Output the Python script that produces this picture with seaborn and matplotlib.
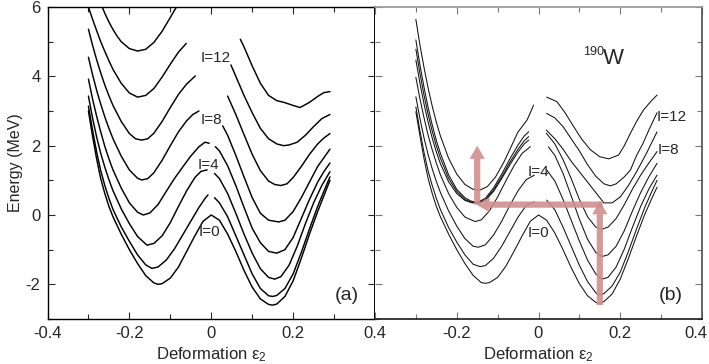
import numpy as np
import pandas as pd
import matplotlib
matplotlib.use("Agg")
import matplotlib.pyplot as plt
import matplotlib.transforms as mtransforms
import seaborn as sns

# ---------------- data: panel (a) ----------------
a0_x = [-0.30,-0.29,-0.28,-0.27,-0.26,-0.25,-0.24,-0.23,-0.22,-0.20,-0.18,-0.16,-0.14,-0.13,-0.12,-0.10,-0.08,-0.06,-0.04,-0.02,0.0,
        0.02,0.04,0.06,0.08,0.10,0.12,0.14,0.15,0.16,0.18,0.20,0.22,0.24,0.26,0.275,0.29]
a0_y = [3.00,2.28,1.62,1.05,0.62,0.25,-0.05,-0.30,-0.55,-1.00,-1.40,-1.75,-1.96,-2.00,-1.98,-1.82,-1.50,-1.05,-0.60,-0.18,0.0,
        -0.15,-0.55,-1.05,-1.60,-2.08,-2.42,-2.58,-2.60,-2.57,-2.35,-1.90,-1.25,-0.55,0.10,0.55,1.00]

a2L_x = [-0.30,-0.29,-0.28,-0.27,-0.26,-0.25,-0.24,-0.22,-0.20,-0.18,-0.16,-0.145,-0.13,-0.11,-0.09,-0.07,-0.05,-0.03,-0.015,-0.008]
a2L_y = [3.14,2.45,1.82,1.28,0.85,0.48,0.16,-0.34,-0.76,-1.15,-1.44,-1.54,-1.50,-1.30,-0.98,-0.58,-0.18,0.22,0.48,0.58]
a2R_x = [0.008,0.02,0.04,0.06,0.08,0.10,0.12,0.14,0.15,0.16,0.18,0.20,0.22,0.24,0.26,0.275,0.29]
a2R_y = [0.50,0.35,-0.05,-0.60,-1.15,-1.70,-2.12,-2.33,-2.35,-2.32,-2.12,-1.70,-1.08,-0.40,0.25,0.68,1.10]

a4L_x = [-0.30,-0.29,-0.28,-0.27,-0.26,-0.25,-0.24,-0.22,-0.20,-0.18,-0.157,-0.14,-0.12,-0.10,-0.08,-0.06,-0.04,-0.025,-0.01]
a4L_y = [3.43,2.80,2.25,1.78,1.38,1.02,0.70,0.18,-0.25,-0.62,-0.87,-0.82,-0.60,-0.22,0.25,0.70,1.08,1.26,1.30]
a4R_x = [0.008,0.02,0.04,0.06,0.08,0.10,0.12,0.14,0.155,0.17,0.19,0.21,0.23,0.25,0.27,0.29]
a4R_y = [1.20,1.05,0.62,0.05,-0.55,-1.10,-1.55,-1.80,-1.85,-1.78,-1.45,-0.90,-0.25,0.35,0.85,1.25]

a6L_x = [-0.30,-0.29,-0.28,-0.27,-0.26,-0.25,-0.24,-0.22,-0.20,-0.18,-0.166,-0.15,-0.13,-0.11,-0.09,-0.07,-0.05,-0.03,-0.015,-0.005]
a6L_y = [3.92,3.35,2.85,2.40,1.98,1.62,1.30,0.78,0.35,0.08,0.00,0.06,0.30,0.68,1.05,1.38,1.70,1.97,2.10,2.07]
a6R_x = [0.01,0.02,0.04,0.06,0.08,0.10,0.12,0.14,0.16,0.18,0.20,0.22,0.24,0.26,0.275,0.29]
a6R_y = [1.97,1.85,1.42,0.85,0.22,-0.38,-0.80,-1.05,-1.10,-1.00,-0.65,-0.10,0.45,0.95,1.25,1.50]

a8L_x = [-0.30,-0.29,-0.28,-0.27,-0.26,-0.25,-0.24,-0.22,-0.20,-0.18,-0.17,-0.155,-0.14,-0.12,-0.10,-0.08,-0.06,-0.045,-0.03]
a8L_y = [4.55,4.05,3.60,3.20,2.83,2.50,2.20,1.70,1.30,1.06,1.01,1.05,1.22,1.58,2.00,2.40,2.72,2.90,3.00]
a8R_x = [0.028,0.04,0.06,0.08,0.10,0.12,0.14,0.165,0.18,0.20,0.22,0.24,0.26,0.275,0.29]
a8R_y = [2.57,2.30,1.72,1.10,0.50,0.05,-0.15,-0.20,-0.15,0.10,0.50,0.95,1.40,1.65,1.90]

a10L_x = [-0.30,-0.29,-0.28,-0.27,-0.26,-0.25,-0.24,-0.22,-0.20,-0.185,-0.17,-0.155,-0.14,-0.12,-0.10,-0.08,-0.06,-0.039]
a10L_y = [5.36,4.90,4.48,4.10,3.75,3.44,3.16,2.70,2.35,2.20,2.16,2.20,2.36,2.70,3.10,3.48,3.78,4.01]
a10R_x = [0.04,0.06,0.08,0.10,0.12,0.14,0.155,0.17,0.185,0.20,0.22,0.24,0.26,0.275,0.29]
a10R_y = [3.43,2.90,2.32,1.75,1.28,0.98,0.88,0.85,0.90,1.08,1.40,1.75,2.05,2.22,2.35]

a12L_x = [-0.30,-0.29,-0.28,-0.27,-0.26,-0.25,-0.24,-0.22,-0.20,-0.18,-0.16,-0.14,-0.12,-0.10,-0.08,-0.061]
a12L_y = [6.00,5.65,5.32,5.00,4.72,4.45,4.20,3.80,3.52,3.40,3.45,3.65,3.98,4.35,4.70,4.95]
a12R_x = [0.048,0.06,0.08,0.10,0.12,0.14,0.16,0.177,0.19,0.21,0.23,0.25,0.27,0.29]
a12R_y = [4.33,4.00,3.45,2.95,2.50,2.20,2.05,2.00,2.02,2.10,2.30,2.55,2.78,2.90]

a14L_x = [-0.27,-0.26,-0.25,-0.24,-0.23,-0.22,-0.20,-0.18,-0.16,-0.14,-0.12,-0.10,-0.085,-0.07]
a14L_y = [6.10,5.82,5.57,5.35,5.16,5.00,4.80,4.73,4.78,4.98,5.30,5.70,6.00,6.25]
a14R_x = [0.071,0.08,0.10,0.12,0.14,0.16,0.18,0.20,0.217,0.24,0.26,0.275,0.29]
a14R_y = [5.07,4.85,4.30,3.80,3.45,3.30,3.24,3.16,3.10,3.25,3.42,3.53,3.56]

# ---------------- data: panel (b) ----------------
b0_x = [-0.30,-0.29,-0.28,-0.27,-0.26,-0.25,-0.24,-0.23,-0.22,-0.20,-0.18,-0.16,-0.14,-0.13,-0.12,-0.10,-0.08,-0.06,-0.04,-0.02,0.0,
        0.02,0.04,0.06,0.08,0.10,0.12,0.14,0.147,0.16,0.18,0.20,0.22,0.24,0.26,0.275,0.29]
b0_y = [2.98,2.28,1.62,1.05,0.62,0.25,-0.05,-0.30,-0.55,-1.00,-1.40,-1.74,-1.95,-1.97,-1.95,-1.80,-1.48,-1.05,-0.60,-0.18,0.0,
        -0.15,-0.52,-1.00,-1.52,-1.98,-2.33,-2.52,-2.55,-2.50,-2.28,-1.85,-1.25,-0.60,0.02,0.42,0.80]

b2L_x = [-0.30,-0.29,-0.28,-0.27,-0.26,-0.25,-0.24,-0.22,-0.20,-0.18,-0.16,-0.143,-0.13,-0.11,-0.09,-0.07,-0.05,-0.03,-0.01]
b2L_y = [3.12,2.42,1.80,1.27,0.85,0.48,0.16,-0.36,-0.78,-1.15,-1.42,-1.49,-1.46,-1.25,-0.90,-0.48,-0.06,0.28,0.38]
b2R_x = [0.02,0.04,0.06,0.08,0.10,0.12,0.14,0.147,0.16,0.18,0.20,0.22,0.24,0.26,0.275,0.29]
b2R_y = [0.43,0.15,-0.35,-0.90,-1.45,-1.92,-2.24,-2.31,-2.27,-2.05,-1.65,-1.05,-0.40,0.22,0.62,1.00]

b4L_x = [-0.30,-0.29,-0.28,-0.27,-0.26,-0.25,-0.24,-0.22,-0.20,-0.18,-0.16,-0.147,-0.13,-0.11,-0.09,-0.07,-0.05,-0.03,-0.01]
b4L_y = [3.41,2.78,2.22,1.74,1.33,0.97,0.65,0.12,-0.32,-0.68,-0.90,-0.93,-0.86,-0.58,-0.18,0.28,0.70,1.02,1.15]
b4R_x = [0.02,0.04,0.06,0.08,0.10,0.12,0.14,0.155,0.17,0.19,0.21,0.23,0.25,0.27,0.29]
b4R_y = [1.30,0.98,0.45,-0.15,-0.75,-1.30,-1.70,-1.85,-1.80,-1.50,-0.98,-0.35,0.25,0.75,1.15]

b6L_x = [-0.30,-0.29,-0.28,-0.27,-0.26,-0.25,-0.24,-0.22,-0.20,-0.18,-0.155,-0.14,-0.12,-0.10,-0.08,-0.06,-0.04,-0.02]
b6L_y = [3.97,3.35,2.80,2.30,1.88,1.50,1.16,0.62,0.22,-0.06,-0.19,-0.14,0.12,0.52,0.98,1.42,1.78,1.97]
b6R_x = [0.024,0.04,0.06,0.08,0.10,0.12,0.14,0.155,0.17,0.19,0.21,0.23,0.25,0.27,0.29]
b6R_y = [1.97,1.72,1.20,0.55,-0.12,-0.70,-1.08,-1.20,-1.15,-0.90,-0.45,0.12,0.65,1.10,1.49]

b8L_x = [-0.30,-0.29,-0.28,-0.27,-0.26,-0.25,-0.24,-0.22,-0.20,-0.18,-0.165,-0.15,-0.13,-0.11,-0.09,-0.07,-0.05,-0.035,-0.024]
b8L_y = [4.47,3.80,3.20,2.68,2.22,1.82,1.48,0.96,0.62,0.42,0.36,0.34,0.42,0.68,1.05,1.45,1.82,2.05,2.16]
b8R_x = [0.019,0.04,0.06,0.08,0.10,0.12,0.14,0.155,0.17,0.19,0.21,0.23,0.25,0.27,0.29]
b8R_y = [2.36,2.05,1.60,1.05,0.45,-0.05,-0.35,-0.41,-0.35,-0.10,0.30,0.75,1.15,1.50,1.83]

b10L_x = [-0.30,-0.29,-0.28,-0.27,-0.26,-0.25,-0.24,-0.22,-0.20,-0.18,-0.165,-0.15,-0.13,-0.11,-0.09,-0.07,-0.05,-0.035,-0.024]
b10L_y = [4.78,4.08,3.45,2.90,2.42,2.00,1.64,1.06,0.68,0.45,0.37,0.34,0.44,0.72,1.10,1.52,1.90,2.14,2.26]
b10R_x = [0.019,0.04,0.06,0.08,0.10,0.12,0.14,0.16,0.18,0.20,0.22,0.24,0.265,0.29]
b10R_y = [2.45,2.20,1.90,1.55,1.25,0.95,0.65,0.35,0.35,0.52,0.85,1.25,1.80,2.40]

b12L_x = [-0.30,-0.29,-0.28,-0.27,-0.26,-0.25,-0.24,-0.22,-0.20,-0.18,-0.165,-0.15,-0.13,-0.11,-0.09,-0.07,-0.05,-0.035,-0.024]
b12L_y = [5.05,4.32,3.68,3.10,2.60,2.15,1.78,1.16,0.74,0.50,0.40,0.36,0.48,0.78,1.18,1.62,2.02,2.28,2.40]
b12R_x = [0.02,0.04,0.06,0.08,0.10,0.12,0.14,0.16,0.176,0.19,0.21,0.225,0.24,0.255,0.27,0.29]
b12R_y = [2.93,2.80,2.55,2.20,1.85,1.45,1.12,0.90,0.84,0.90,1.10,1.30,1.72,2.05,2.45,2.95]

b14L_x = [-0.30,-0.29,-0.28,-0.27,-0.26,-0.25,-0.24,-0.22,-0.20,-0.18,-0.16,-0.143,-0.125,-0.105,-0.085,-0.065,-0.05,-0.04,-0.028,-0.02,-0.012]
b14L_y = [5.64,4.90,4.25,3.66,3.14,2.68,2.28,1.64,1.18,0.88,0.74,0.72,0.82,1.10,1.52,2.02,2.40,2.55,2.74,2.95,3.17]
b14R_x = [0.02,0.045,0.065,0.086,0.105,0.127,0.15,0.172,0.196,0.21,0.225,0.24,0.257,0.275,0.29]
b14R_y = [3.40,3.27,2.95,2.55,2.20,1.88,1.68,1.62,1.73,2.00,2.36,2.70,3.03,3.28,3.46]

# labels
spin_labels = ["I=0", "I=4", "I=8", "I=12"]
a_label_x = [-0.004, -0.006, 0.0, 0.012]
a_label_y = [-0.48, 1.44, 2.74, 4.52]
b_label_x = [0.0, 0.0, 0.318, 0.327]
b_label_y = [-0.53, 1.25, 1.88, 2.84]
x_ticks = [-0.4, -0.2, 0.0, 0.2, 0.4]
x_ticklabels = ["-0.4", "-0.2", "0", "0.2", "0.4"]
y_ticks = [-2, 0, 2, 4, 6]
y_ticklabels = ["-2", "0", "2", "4", "6"]

a_branches = [(a0_x, a0_y), (a2L_x, a2L_y), (a2R_x, a2R_y), (a4L_x, a4L_y), (a4R_x, a4R_y),
              (a6L_x, a6L_y), (a6R_x, a6R_y), (a8L_x, a8L_y), (a8R_x, a8R_y),
              (a10L_x, a10L_y), (a10R_x, a10R_y), (a12L_x, a12L_y), (a12R_x, a12R_y),
              (a14L_x, a14L_y), (a14R_x, a14R_y)]
b_branches = [(b0_x, b0_y), (b2L_x, b2L_y), (b2R_x, b2R_y), (b4L_x, b4L_y), (b4R_x, b4R_y),
              (b6L_x, b6L_y), (b6R_x, b6R_y), (b8L_x, b8L_y), (b8R_x, b8R_y),
              (b10L_x, b10L_y), (b10R_x, b10R_y), (b12L_x, b12L_y), (b12R_x, b12R_y),
              (b14L_x, b14L_y), (b14R_x, b14R_y)]


def to_frame(branches):
    rows = []
    for k, (xs, ys) in enumerate(branches):
        for xv, yv in zip(xs, ys):
            rows.append((k, xv, yv))
    return pd.DataFrame(rows, columns=["branch", "x", "y"])


sns.set_theme(style="white")
plt.rcParams["font.family"] = ["Liberation Sans", "DejaVu Sans"]
plt.rcParams["mathtext.fontset"] = "custom"
plt.rcParams["mathtext.rm"] = "Liberation Sans"
plt.rcParams["mathtext.it"] = "Liberation Sans"

W, H = 709, 364
fig = plt.figure(figsize=(W / 100, H / 100), dpi=100)
bottom = 1 - 319 / H
height = 312 / H
ax1 = fig.add_axes([47.5 / W, bottom, (375 - 47.5) / W, height])
ax2 = fig.add_axes([375 / W, bottom, (702 - 375) / W, height])

sns.lineplot(data=to_frame(a_branches), x="x", y="y", units="branch", estimator=None,
             sort=False, color="black", lw=1.05, ax=ax1, legend=False)
sns.lineplot(data=to_frame(b_branches), x="x", y="y", units="branch", estimator=None,
             sort=False, color="#111111", lw=0.75, ax=ax2, legend=False)

for ax in (ax1, ax2):
    ax.set_xlim(-0.4, 0.4)
    ax.set_ylim(-3, 6)
    ax.set_xticks(x_ticks)
    ax.set_xticklabels(x_ticklabels)
    ax.set_xticks([-0.3, -0.1, 0.1, 0.3], minor=True)
    ax.set_yticks(y_ticks)
    ax.set_yticks([-3, -1, 1, 3, 5], minor=True)
    ax.tick_params(which="both", direction="in", top=True, right=True, bottom=True, left=True,
                   labelsize=12, pad=5)
    ax.tick_params(which="major", length=5, width=0.8)
    ax.tick_params(which="minor", length=3.5, width=0.8)
    ax.set_xlabel("Deformation ε$_2$", fontsize=12, labelpad=3)
    ax.grid(False)

ax1.set_yticklabels(y_ticklabels)
ax1.set_ylabel("Energy (MeV)", fontsize=11.5, labelpad=2)
ax2.set_ylabel("")
ax2.tick_params(labelleft=False)
ax2.set_xticklabels([""] + x_ticklabels[1:])
last = ax2.get_xticklabels()[-1]
last.set_transform(last.get_transform() + mtransforms.ScaledTranslation(-6 / 100, 0, fig.dpi_scale_trans))
for s in ax1.spines.values():
    s.set_color("black")
    s.set_linewidth(1.0)
ax1.spines["right"].set_linewidth(1.4)
ax2.spines["left"].set_visible(False)
ax2.spines["top"].set_color("#9a9a9a")
ax2.spines["right"].set_color("#555555")
ax2.spines["bottom"].set_color("#222222")
ax2.tick_params(which="both", color="#777777")

for t, xv, yv in zip(spin_labels, a_label_x, a_label_y):
    ax1.text(xv, yv, t, ha="center", va="center", fontsize=11)
for t, xv, yv in zip(spin_labels, b_label_x, b_label_y):
    ax2.text(xv, yv, t, ha="center", va="center", fontsize=11)
ax1.text(0.332, -2.31, "(a)", ha="center", va="center", fontsize=14)
ax2.text(0.323, -2.31, "(b)", ha="center", va="center", fontsize=14)
ax2.text(0.1335, 4.71, "190", ha="center", va="center", fontsize=9)
ax2.text(0.184, 4.52, "W", ha="center", va="center", fontsize=16)

# transition arrows
arrow_col = "#d08e8e"
astyle = "simple,head_width=2.2,head_length=1.9,tail_width=0.9"
arrow_tails = [(0.15, -2.6), (0.157, 0.30), (-0.15, 0.30)]
arrow_tips = [(0.15, 0.40), (-0.152, 0.30), (-0.15, 2.0)]
for tail, tip in zip(arrow_tails, arrow_tips):
    ax2.annotate("", xy=tip, xytext=tail,
                 arrowprops=dict(arrowstyle=astyle, mutation_scale=5, color=arrow_col,
                                 alpha=0.9, lw=0, shrinkA=0, shrinkB=0))

fig.savefig("out.png", dpi=100)
